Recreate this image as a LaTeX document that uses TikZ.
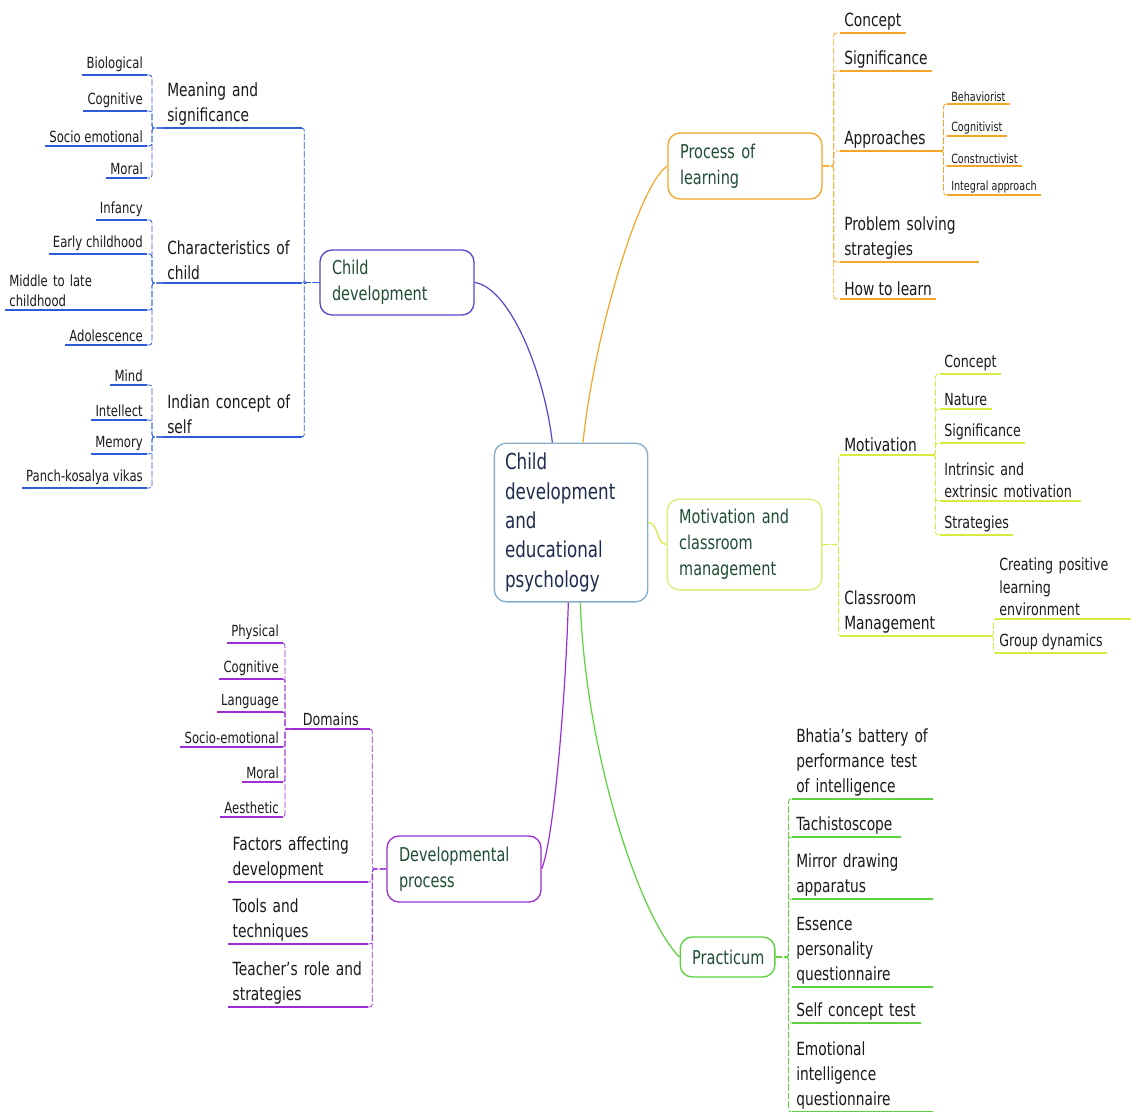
\documentclass[tikz,border=0pt]{standalone}
\usepackage{fontspec}
\setmainfont{DejaVu Sans}[FakeStretch=0.76]

\definecolor{cblue}{HTML}{2F5BD8}
\definecolor{cblueb}{HTML}{5548C8}
\definecolor{corange}{HTML}{F4A62A}
\definecolor{cyellow}{HTML}{D8EA3A}
\definecolor{cyellowb}{HTML}{E0EC7A}
\definecolor{cpurple}{HTML}{9A2FD6}
\definecolor{cgreen}{HTML}{5CD23C}
\definecolor{cenline}{HTML}{86AECB}
\definecolor{brtext}{HTML}{1E4D33}
\definecolor{centext}{HTML}{1D2C4E}
\definecolor{leaftext}{HTML}{1A1A1A}

\newcommand{\cenfont}{\fontsize{16.5}{22}\selectfont}
\newcommand{\brfont}{\fontsize{14.3}{19.5}\selectfont}
\newcommand{\lvfont}{\fontsize{13.6}{18.75}\selectfont}
\newcommand{\midfont}{\fontsize{12.5}{17}\selectfont}
\newcommand{\leaffont}{\fontsize{11.5}{15}\selectfont}
\newcommand{\smfont}{\fontsize{9.5}{12}\selectfont}

\begin{document}
\begin{tikzpicture}[x=0.75pt, y=-0.75pt,
    central/.style={draw=cenline, rounded corners=9pt, line width=1pt, text=centext, font=\cenfont, align=left, inner xsep=8pt},
    branch/.style={draw=#1, rounded corners=9pt, line width=1pt, text=brtext, font=\brfont, align=left, inner xsep=9pt},
    topic/.style={text=leaftext, font=\lvfont, inner xsep=3pt, inner ysep=2pt, align=left,
        append after command={(\tikzlastnode.south west) edge[draw=#1, line width=1.5pt] (\tikzlastnode.south east)}},
    lleaf/.style={topic=#1, font=\leaffont, anchor=south east, align=right},
    small/.style={text=leaftext, font=\smfont, inner xsep=3pt, inner ysep=1.5pt, anchor=south west,
        append after command={(\tikzlastnode.south west) edge[draw=#1, line width=1pt] (\tikzlastnode.south east)}},
    fan/.style={draw=#1, line width=0.6pt, dash pattern=on 5pt off 1.5pt, rounded corners=2pt},
    link/.style={draw=#1, line width=0.9pt}
]
\path[fill=white, use as bounding box] (0,0) rectangle (1131,1112);

% centre
\node[central, text width=99pt, minimum height=119pt] (cen) at (571,522.5) {Child\\development\\and\\educational\\psychology};

% child development
\node[branch=cblueb, text width=97.5pt, minimum height=48.75pt] (cd) at (397,282.5) {Child\\development};
\node[topic=cblue, anchor=south west, text width=98pt] (mean) at (163,128) {Meaning and\\significance};
\node[topic=cblue, anchor=south west, text width=98pt] (char) at (163,283) {Characteristics of\\child};
\node[topic=cblue, anchor=south west, text width=98pt] (ind) at (163,437) {Indian concept of\\self};
\node[lleaf=cblue] (bio) at (147,75) {Biological};
\node[lleaf=cblue] (cog) at (147,111) {Cognitive};
\node[lleaf=cblue] (soc) at (147,146) {Socio emotional};
\node[lleaf=cblue] (mor) at (147,178) {Moral};
\node[lleaf=cblue] (inf) at (147,220) {Infancy};
\node[lleaf=cblue] (ech) at (147,254) {Early childhood};
\node[lleaf=cblue, align=left, text width=100pt] (mlc) at (147,310) {Middle to late\\childhood};
\node[lleaf=cblue] (ado) at (147,345) {Adolescence};
\node[lleaf=cblue] (mind) at (147,385) {Mind};
\node[lleaf=cblue] (intl) at (147,420) {Intellect};
\node[lleaf=cblue] (memo) at (147,454) {Memory};
\node[lleaf=cblue] (panch) at (147,488) {Panch-kosalya vikas};

\foreach \n in {mean,char,ind} \draw[fan=cblue] (cd.west) -- ++(-15,0) |- (\n.south east);
\foreach \n in {bio,cog,soc,mor} \draw[fan=cblue] (mean.south west) -- ++(-11,0) |- (\n.south east);
\foreach \n in {inf,ech,mlc,ado} \draw[fan=cblue] (char.south west) -- ++(-11,0) |- (\n.south east);
\foreach \n in {mind,intl,memo,panch} \draw[fan=cblue] (ind.south west) -- ++(-11,0) |- (\n.south east);

% process of learning
\node[branch=corange, text width=97.5pt, minimum height=49.5pt] (pol) at (745,166) {Process of\\learning};
\node[topic=corange, anchor=south west] (pconc) at (840,33) {Concept};
\node[topic=corange, anchor=south west] (psig) at (840,71) {Significance};
\node[topic=corange, anchor=south west, text width=69pt] (appr) at (840,151) {Approaches};
\node[small=corange] (beh) at (947,104) {Behaviorist};
\node[small=corange] (cgv) at (947,136) {Cognitivist};
\node[small=corange] (cns) at (947,166) {Constructivist};
\node[small=corange] (intg) at (947,195) {Integral approach};
\node[topic=corange, anchor=south west, text width=97.5pt] (pss) at (840,262) {Problem solving\\strategies};
\node[topic=corange, anchor=south west] (htl) at (840,299) {How to learn};

\foreach \n in {pconc,psig,appr,pss,htl} \draw[fan=corange] (pol.east) -- ++(11,0) |- (\n.south west);
\foreach \n in {beh,cgv,cns,intg} \draw[fan=corange] (appr.south east) -- ++(3,0) |- (\n.south west);

% motivation and classroom management
\node[branch=cyellowb, text width=98pt, minimum height=68pt] (mcm) at (744.5,544.5) {Motivation and\\classroom\\management};
\node[topic=cyellow, anchor=south west, text width=63pt] (motv) at (840,455) {Motivation};
\node[topic=cyellow, anchor=south west, text width=106.5pt] (clm) at (840,636) {Classroom\\Management};
\node[topic=cyellow, anchor=south west, font=\midfont] (mconc) at (940,374) {Concept};
\node[topic=cyellow, anchor=south west, font=\midfont] (mnat) at (940,409) {Nature};
\node[topic=cyellow, anchor=south west, font=\midfont] (msig) at (940,443) {Significance};
\node[topic=cyellow, anchor=south west, font=\midfont, text width=99pt] (mint) at (940,501) {Intrinsic and\\extrinsic motivation};
\node[topic=cyellow, anchor=south west, font=\midfont] (mstr) at (940,535) {Strategies};
\node[topic=cyellow, anchor=south west, font=\midfont, text width=96pt] (cple) at (995,619) {Creating positive\\learning\\environment};
\node[topic=cyellow, anchor=south west, font=\midfont] (grpd) at (995,653) {Group dynamics};

\foreach \n in {motv,clm} \draw[fan=cyellow] (mcm.east) -- ++(16,0) |- (\n.south west);
\foreach \n in {mconc,mnat,msig,mint,mstr} \draw[fan=cyellow] (motv.south east) -- ++(3,0) |- (\n.south west);
\foreach \n in {cple,grpd} \draw[fan=cyellow] (clm.south east) -- ++(3,0) |- (\n.south west);

% developmental process
\node[branch=cpurple, text width=97.5pt, minimum height=49.5pt] (dp) at (464,869) {Developmental\\process};
\node[topic=cpurple, anchor=south west, font=\midfont, text width=51.75pt, align=center] (dom) at (292,729) {Domains};
\node[lleaf=cpurple] (phy) at (283,643) {Physical};
\node[lleaf=cpurple] (dcog) at (283,679) {Cognitive};
\node[lleaf=cpurple] (lang) at (283,712) {Language};
\node[lleaf=cpurple] (dsoc) at (283,747) {Socio-emotional};
\node[lleaf=cpurple] (dmor) at (283,782) {Moral};
\node[lleaf=cpurple] (aes) at (283,817) {Aesthetic};
\node[topic=cpurple, anchor=south east, text width=98.25pt] (fad) at (368,882) {Factors affecting\\development};
\node[topic=cpurple, anchor=south east, text width=98.25pt] (tat) at (368,944) {Tools and\\techniques};
\node[topic=cpurple, anchor=south east, text width=98.25pt] (trs) at (368,1007) {Teacher's role and\\strategies};

\foreach \n in {dom,fad,tat,trs} \draw[fan=cpurple] (dp.west) -- ++(-14,0) |- (\n.south east);
\foreach \n in {phy,dcog,lang,dsoc,dmor,aes} \draw[fan=cpurple] (dom.south west) -- ++(-7,0) |- (\n.south east);

% practicum
\node[branch=cgreen, text width=53pt, minimum height=30pt, align=center] (prac) at (727.5,957) {Practicum};
\node[topic=cgreen, anchor=south west, text width=99pt] (bha) at (792,799) {Bhatia's battery of\\performance test\\of intelligence};
\node[topic=cgreen, anchor=south west, text width=75pt] (tach) at (792,837) {Tachistoscope};
\node[topic=cgreen, anchor=south west, text width=99pt] (mir) at (792,899) {Mirror drawing\\apparatus};
\node[topic=cgreen, anchor=south west, text width=99pt] (ess) at (792,987) {Essence\\personality\\questionnaire};
\node[topic=cgreen, anchor=south west, text width=90pt] (sct) at (792,1023) {Self concept test};
\node[topic=cgreen, anchor=south west, text width=99pt] (eiq) at (792,1112) {Emotional\\intelligence\\questionnaire};

\foreach \n in {bha,tach,mir,ess,sct,eiq} \draw[fan=cgreen] (prac.east) -- ++(13,0) |- (\n.south west);

% main links
\draw[link=cblueb] ([xshift=-14pt]cen.north) .. controls +(-8,-70) and +(35,5) .. (cd.east);
\draw[link=corange] ([xshift=9pt]cen.north) .. controls +(10,-100) and +(-30,20) .. (pol.west);
\draw[link=cyellow] (cen.east) .. controls +(10,0) and +(-10,0) .. (mcm.west);
\draw[link=cpurple] ([xshift=-2pt]cen.south) .. controls +(-3,100) and +(12,-30) .. (dp.east);
\draw[link=cgreen] ([xshift=7pt]cen.south) .. controls +(5,150) and +(-40,-40) .. (prac.west);

\end{tikzpicture}
\end{document}
